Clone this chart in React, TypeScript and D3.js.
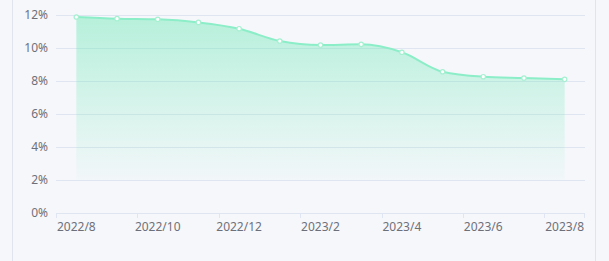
import React from "react";
import * as d3 from "d3";

const categories = ["2022/8","2022/9","2022/10","2022/11","2022/12","2023/1","2023/2","2023/3","2023/4","2023/5","2023/6","2023/7","2023/8"];
const values = [11.88, 11.78, 11.74, 11.55, 11.17, 10.42, 10.18, 10.22, 9.74, 8.56, 8.26, 8.18, 8.1];
const yTicks = [0, 2, 4, 6, 8, 10, 12];

const W = 609, H = 261;
const left = 56, right = 585, top = 15, bottom = 213;

export default function App() {
  const x = d3.scaleBand<string>().domain(categories).range([left, right]);
  const y = d3.scaleLinear().domain([0, 12]).range([bottom, top]);
  const cx = (c: string) => (x(c) as number) + x.bandwidth() / 2;
  const pts = categories.map((c, i) => [cx(c), y(values[i])] as [number, number]);
  const line = d3.line().curve(d3.curveMonotoneX)(pts) as string;
  const area = d3.area<[number, number]>().x(d => d[0]).y0(y(0)).y1(d => d[1]).curve(d3.curveMonotoneX)(pts) as string;
  const tickIdx = categories.map((_, i) => i).filter(i => i % 2 === 0);
  const font = "'Noto Sans', 'DejaVu Sans', sans-serif";
  return (
    <svg width={W} height={H} style={{ position: "fixed", left: 0, top: 0 }}>
      <rect x={0} y={0} width={W} height={H} fill="#f6f7fb" />
      <line x1={12.5} x2={12.5} y1={0} y2={H} stroke="#e1e4ef" />
      <line x1={595.5} x2={595.5} y1={0} y2={H} stroke="#e1e4ef" />
      <defs>
        <linearGradient id="g" x1="0" y1={y(12)} x2="0" y2={y(0)} gradientUnits="userSpaceOnUse">
          <stop offset="0" stopColor="#5ee6ae" stopOpacity={0.42} />
          <stop offset="0.83" stopColor="#5ee6ae" stopOpacity={0.03} />
          <stop offset="0.835" stopColor="#5ee6ae" stopOpacity={0} />
          <stop offset="1" stopColor="#5ee6ae" stopOpacity={0} />
        </linearGradient>
      </defs>
      {yTicks.map(t => (
        <g key={t}>
          <line x1={left} x2={right} y1={Math.round(y(t)) + 0.5} y2={Math.round(y(t)) + 0.5} stroke="#e0e6f1" />
          <text x={48} y={y(t)} dy="0.35em" textAnchor="end" fontSize={12} fill="#6e7079" fontFamily={font}>{t}%</text>
        </g>
      ))}
      {tickIdx.map(i => (
        <line key={"t" + i} x1={Math.round(x(categories[i]) as number) + 0.5} x2={Math.round(x(categories[i]) as number) + 0.5} y1={bottom} y2={bottom + 5} stroke="#e0e6f1" />
      ))}
      <line x1={right - 0.5} x2={right - 0.5} y1={bottom} y2={bottom + 5} stroke="#e0e6f1" />
      {tickIdx.map(i => (
        <text key={"l" + i} x={cx(categories[i])} y={bottom + 14} dy="0.35em" textAnchor="middle" fontSize={12} fill="#6e7079" fontFamily={font}>{categories[i]}</text>
      ))}
      <path d={area} fill="url(#g)" />
      <path d={line} fill="none" stroke="#8ceec8" strokeWidth={2} />
      {pts.map((p, i) => (
        <circle key={i} cx={p[0]} cy={p[1]} r={2.2} fill="#ffffff" stroke="#a6f0d2" strokeWidth={1.2} />
      ))}
    </svg>
  );
}
